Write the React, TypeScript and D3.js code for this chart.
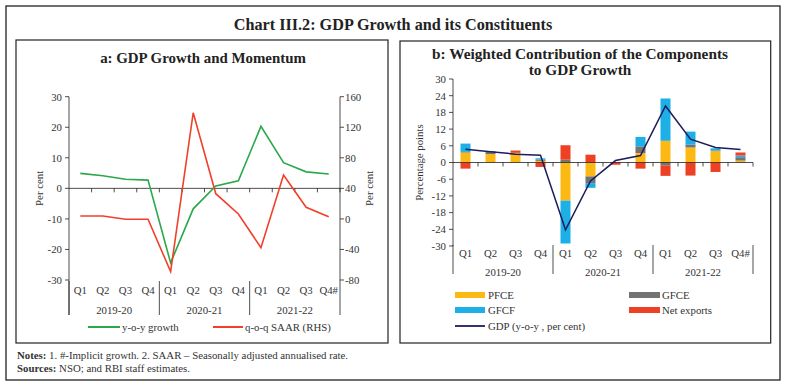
import React from "react";
import * as d3 from "d3";

const quarters = ["Q1", "Q2", "Q3", "Q4", "Q1", "Q2", "Q3", "Q4", "Q1", "Q2", "Q3", "Q4#"];
const years = ["2019-20", "2020-21", "2021-22"];

// Panel a
const yoyGrowth = [4.9, 4.1, 3.0, 2.7, -24.4, -6.7, 0.8, 2.5, 20.3, 8.4, 5.4, 4.7];
const qoqSaar = [3.8, 3.8, -0.5, -0.5, -69.0, 139.0, 33.0, 6.4, -37.7, 57.5, 15.2, 2.9];
const leftTicks = [-30, -20, -10, 0, 10, 20, 30];
const rightTicks = [-80, -40, 0, 40, 80, 120, 160];

// Panel b
const pfce = [3.6, 3.0, 3.3, 0.6, -13.7, -5.0, 0.2, 3.4, 7.8, 5.4, 4.1, 0.7];
const gfce = [0.2, 1.0, 0.2, 0.4, 1.0, -2.4, 0.0, 2.4, -1.0, 1.0, 0.2, 1.2];
const gfcf = [3.0, 0.1, 0.0, 0.5, -15.4, -1.7, 0.0, 3.4, 15.2, 4.7, 0.8, 0.6];
const netExports = [-2.2, 0.0, 0.8, -1.6, 5.2, 2.8, -0.8, -2.2, -3.8, -4.7, -3.4, 1.1];
const gdpYoy = [4.8, 3.9, 3.0, 2.6, -24.2, -6.6, 0.7, 2.5, 20.3, 8.4, 5.4, 4.7];
const bTicks = [-30, -24, -18, -12, -6, 0, 6, 12, 18, 24, 30];

const components = ["PFCE", "GFCE", "GFCF", "Net exports"];
const compColors: Record<string, string> = {
  PFCE: "#fdb913",
  GFCE: "#737373",
  GFCF: "#1cb0e6",
  "Net exports": "#ee4024",
};

const SERIF = "'Liberation Serif', serif";
const FS = 10.8;
const TXT = "#333";
const GREEN = "#2ba84a";
const RED = "#f0402a";
const NAVY = "#1c1c5e";

function PanelA() {
  const idx = quarters.map((_, i) => i);
  const x = d3.scaleBand<number>().domain(idx).range([69, 340]);
  const yL = d3.scaleLinear().domain([-30, 30]).range([280, 96.7]);
  const yR = d3.scaleLinear().domain([-80, 160]).range([280, 96.7]);
  const cx = (i: number) => (x(i) as number) + x.bandwidth() / 2;
  const lineL = d3.line<number>().x((_, i) => cx(i)).y((d) => yL(d));
  const lineR = d3.line<number>().x((_, i) => cx(i)).y((d) => yR(d));
  const bw = x.bandwidth();
  const y0 = yL(0);
  return (
    <g>
      <rect x={16} y={40} width={372} height={303} fill="none" stroke="#222" strokeWidth={1.2} />
      <text x={203} y={63} textAnchor="middle" fontFamily={SERIF} fontWeight="bold" fontSize={14.9} fill="#222">
        a: GDP Growth and Momentum
      </text>
      <line x1={69} x2={69} y1={96.7} y2={315} stroke="#222" strokeWidth={0.8} />
      <line x1={340} x2={340} y1={96.7} y2={315} stroke="#222" strokeWidth={0.8} />
      {leftTicks.map((t) => (
        <g key={"l" + t}>
          <line x1={65} x2={69} y1={yL(t)} y2={yL(t)} stroke="#222" strokeWidth={0.8} />
          <text x={62} y={yL(t) + 3.8} textAnchor="end" fontFamily={SERIF} fontSize={FS} fill={TXT}>
            {t}
          </text>
        </g>
      ))}
      {rightTicks.map((t) => (
        <g key={"r" + t}>
          <line x1={340} x2={344} y1={yR(t)} y2={yR(t)} stroke="#222" strokeWidth={0.8} />
          <text x={345} y={yR(t) + 3.8} textAnchor="start" fontFamily={SERIF} fontSize={FS} fill={TXT}>
            {t}
          </text>
        </g>
      ))}
      <text transform={`translate(43,${(96.7 + 280) / 2}) rotate(-90)`} textAnchor="middle" fontFamily={SERIF} fontSize={FS} fill={TXT}>
        Per cent
      </text>
      <text transform={`translate(373,${(96.7 + 280) / 2}) rotate(-90)`} textAnchor="middle" fontFamily={SERIF} fontSize={FS} fill={TXT}>
        Per cent
      </text>
      <line x1={69} x2={340} y1={y0} y2={y0} stroke="#222" strokeWidth={0.8} />
      {idx.map((i) => (
        <line key={"t" + i} x1={(x(i) as number) + bw} x2={(x(i) as number) + bw} y1={y0} y2={y0 + 4} stroke="#222" strokeWidth={0.8} />
      ))}
      {quarters.map((q, i) => (
        <text key={"q" + i} x={cx(i)} y={294} textAnchor="middle" fontFamily={SERIF} fontSize={FS} fill={TXT}>
          {q}
        </text>
      ))}
      {years.map((yr, g) => (
        <g key={yr}>
          <line x1={x(g * 4) as number} x2={x(g * 4) as number} y1={281} y2={315} stroke="#222" strokeWidth={0.8} />
          <text x={(x(g * 4) as number) + bw * 2} y={313.5} textAnchor="middle" fontFamily={SERIF} fontSize={FS} fill={TXT}>
            {yr}
          </text>
        </g>
      ))}
      <path d={lineL(yoyGrowth) || ""} fill="none" stroke={GREEN} strokeWidth={1.6} />
      <path d={lineR(qoqSaar) || ""} fill="none" stroke={RED} strokeWidth={1.6} />
      <line x1={88} x2={120} y1={327} y2={327} stroke={GREEN} strokeWidth={2} />
      <text x={122} y={330.5} fontFamily={SERIF} fontSize={FS} fill={TXT}>y-o-y growth</text>
      <line x1={213} x2={243} y1={327} y2={327} stroke={RED} strokeWidth={2} />
      <text x={245} y={330.5} fontFamily={SERIF} fontSize={FS} fill={TXT}>q-o-q SAAR (RHS)</text>
    </g>
  );
}

function PanelB() {
  const idx = quarters.map((_, i) => i);
  const x = d3.scaleBand<number>().domain(idx).range([453, 753]);
  const y = d3.scaleLinear().domain([-30, 30]).range([246, 79]);
  const bw = x.bandwidth();
  const barW = bw * 0.4;
  const cx = (i: number) => (x(i) as number) + bw / 2;
  const rows = idx.map((i) => ({
    PFCE: pfce[i],
    GFCE: gfce[i],
    GFCF: gfcf[i],
    "Net exports": netExports[i],
  }));
  const series = d3.stack<any>().keys(components).offset(d3.stackOffsetDiverging)(rows);
  const line = d3.line<number>().x((_, i) => cx(i)).y((d) => y(d));
  const y0 = y(0);
  return (
    <g>
      <rect x={400} y={41} width={370.7} height={302} fill="none" stroke="#222" strokeWidth={1.2} />
      <text x={580} y={59} textAnchor="middle" fontFamily={SERIF} fontWeight="bold" fontSize={15.3} fill="#222">
        b: Weighted Contribution of the Components
      </text>
      <text x={580} y={74.5} textAnchor="middle" fontFamily={SERIF} fontWeight="bold" fontSize={15.3} fill="#222">
        to GDP Growth
      </text>
      {series.map((s) => (
        <g key={s.key} fill={compColors[s.key]}>
          {s.map((d, i) => (
            <rect
              key={i}
              x={cx(i) - barW / 2}
              width={barW}
              y={y(Math.max(d[0], d[1]))}
              height={Math.abs(y(d[0]) - y(d[1]))}
            />
          ))}
        </g>
      ))}
      <line x1={453} x2={453} y1={79} y2={246} stroke="#222" strokeWidth={0.8} />
      {bTicks.map((t) => (
        <g key={t}>
          <line x1={449} x2={453} y1={y(t)} y2={y(t)} stroke="#222" strokeWidth={0.8} />
          <text x={446} y={y(t) + 3.8} textAnchor="end" fontFamily={SERIF} fontSize={FS} fill={TXT}>
            {t}
          </text>
        </g>
      ))}
      <text transform={`translate(423,${(79 + 246) / 2}) rotate(-90)`} textAnchor="middle" fontFamily={SERIF} fontSize={FS} fill={TXT}>
        Percentage points
      </text>
      <line x1={453} x2={753} y1={y0} y2={y0} stroke="#222" strokeWidth={0.8} />
      {idx.map((i) => (
        <line key={"t" + i} x1={(x(i) as number) + bw} x2={(x(i) as number) + bw} y1={y0} y2={y0 + 4} stroke="#222" strokeWidth={0.8} />
      ))}
      <path d={line(gdpYoy) || ""} fill="none" stroke={NAVY} strokeWidth={1.5} />
      {quarters.map((q, i) => (
        <text key={"q" + i} x={cx(i)} y={257} textAnchor="middle" fontFamily={SERIF} fontSize={FS} fill={TXT}>
          {q}
        </text>
      ))}
      {years.map((yr, g) => (
        <g key={yr}>
          <line x1={x(g * 4) as number} x2={x(g * 4) as number} y1={245} y2={274} stroke="#222" strokeWidth={0.8} />
          <text x={(x(g * 4) as number) + bw * 2} y={276} textAnchor="middle" fontFamily={SERIF} fontSize={FS} fill={TXT}>
            {yr}
          </text>
        </g>
      ))}
      <line x1={753} x2={753} y1={245} y2={274} stroke="#222" strokeWidth={0.8} />
      <rect x={455} y={292} width={30} height={6} fill={compColors.PFCE} />
      <text x={488} y={298.8} fontFamily={SERIF} fontSize={FS} fill={TXT}>PFCE</text>
      <rect x={629} y={292} width={31} height={6} fill={compColors.GFCE} />
      <text x={662} y={298.8} fontFamily={SERIF} fontSize={FS} fill={TXT}>GFCE</text>
      <rect x={455} y={307} width={30} height={6} fill={compColors.GFCF} />
      <text x={488} y={313.8} fontFamily={SERIF} fontSize={FS} fill={TXT}>GFCF</text>
      <rect x={629} y={307} width={31} height={6} fill={compColors["Net exports"]} />
      <text x={662} y={313.8} fontFamily={SERIF} fontSize={FS} fill={TXT}>Net exports</text>
      <line x1={455} x2={485} y1={326} y2={326} stroke={NAVY} strokeWidth={1.8} />
      <text x={488} y={329.8} fontFamily={SERIF} fontSize={FS} fill={TXT}>GDP (y-o-y , per cent)</text>
    </g>
  );
}

export default function App() {
  return (
    <svg width={786} height={387} style={{ position: "absolute", left: 0, top: 0, background: "#fff" }}>
      <rect x={0} y={0} width={786} height={387} fill="#fff" />
      <rect x={6} y={6} width={774} height={374} fill="none" stroke="#222" strokeWidth={1.3} />
      <text x={393} y={30} textAnchor="middle" fontFamily={SERIF} fontWeight="bold" fontSize={16.2} fill="#222">
        Chart III.2: GDP Growth and its Constituents
      </text>
      <PanelA />
      <PanelB />
      <text x={17} y={359} fontFamily={SERIF} fontSize={10.8} fill={TXT}>
        <tspan fontWeight="bold">Notes:</tspan> 1. #-Implicit growth. 2. SAAR – Seasonally adjusted annualised rate.
      </text>
      <text x={17} y={371.5} fontFamily={SERIF} fontSize={10.8} fill={TXT}>
        <tspan fontWeight="bold">Sources:</tspan> NSO; and RBI staff estimates.
      </text>
    </svg>
  );
}
